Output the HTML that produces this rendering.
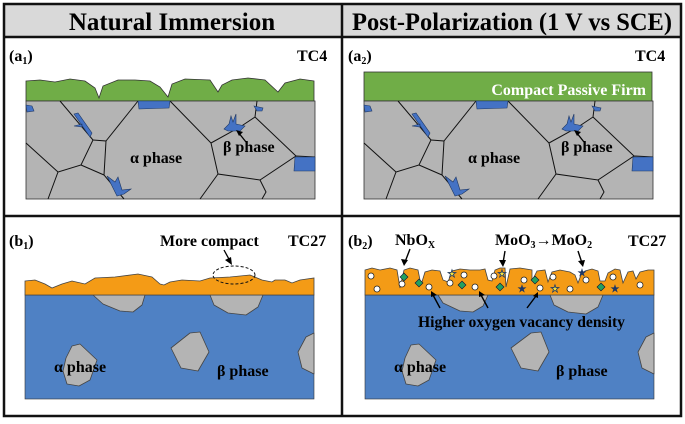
<!DOCTYPE html>
<html><head><meta charset="utf-8"><style>
body{margin:0;background:#fff;width:685px;height:419px;overflow:hidden}
svg text{font-family:"Liberation Serif",serif;font-weight:bold}
</style></head><body>
<svg width="685" height="419" viewBox="0 0 685 419" xmlns="http://www.w3.org/2000/svg">
<rect x="0" y="0" width="685" height="419" fill="#fff"/>
<rect x="4" y="4" width="677" height="33" fill="#d9d9d9"/>
<text x="172" y="30" font-size="25" text-anchor="middle">Natural Immersion</text>
<text x="512" y="30" font-size="25" text-anchor="middle" textLength="320" lengthAdjust="spacingAndGlyphs">Post-Polarization (1 V vs SCE)</text>
<g fill="none" stroke="#111" stroke-width="2.5">
<rect x="4" y="4" width="677" height="412"/>
<line x1="4" y1="37" x2="681" y2="37"/>
<line x1="342" y1="4" x2="342" y2="416"/>
<line x1="4" y1="216" x2="681" y2="216"/>
</g>
<g font-size="16">
<text x="9" y="61">(a<tspan font-size="10" dy="3">1</tspan><tspan dy="-3">)</tspan></text>
<text x="297" y="61">TC4</text>
<text x="348" y="61">(a<tspan font-size="10" dy="3">2</tspan><tspan dy="-3">)</tspan></text>
<text x="635" y="61">TC4</text>
<text x="9" y="246">(b<tspan font-size="10" dy="3">1</tspan><tspan dy="-3">)</tspan></text>
<text x="288" y="246">TC27</text>
<text x="348" y="246">(b<tspan font-size="10" dy="3">2</tspan><tspan dy="-3">)</tspan></text>
<text x="628" y="246">TC27</text>
</g>

<path d="M26,81 L40,80 L55,82 L70,79 L85,81 L95,88 L99,98 L103,86 L118,80 L135,80 L150,81 L160,87 L168,97 L172,84 L185,79 L210,80 L218,92 L222,85 L232,80 L248,78 L265,80 L278,92 L285,83 L300,79 L314,81 L314,101 L26,101 Z" fill="#70ad47" stroke="#333" stroke-width="0.8"/>
<g id="grain">
<rect x="26" y="101" width="289" height="98" fill="#b4b4b4" stroke="#333" stroke-width="0.8"/>
<g fill="none" stroke="#111" stroke-width="1">
<path d="M60,101 L93,140 L81,165 L58,172 L48,199"/>
<path d="M26,143 L58,172"/>
<path d="M93,140 L106,141 L104,175 L124,199"/>
<path d="M81,165 L104,175"/>
<path d="M138,101 L106,141"/>
<path d="M170,101 L211,143 L218,174 L260,180 L296,156 L315,157"/>
<path d="M211,143 L240,127 L255,117 L257,101"/>
<path d="M255,117 L296,156"/>
<path d="M218,174 L200,199"/>
<path d="M260,180 L266,192 L262,199"/>
</g>
<g fill="#4472c4" stroke="#1f3864" stroke-width="0.6">
<path d="M138,101 L170,101 L169,108 L139,109 Z"/>
<path d="M26,105 L32,106 L34,111 L27,112 Z"/>
<path d="M74,114 L78,113 L92,133 L90,137 Z M74,126 L82,124 L82,127 Z"/>
<path d="M107,176 L115,182 L118,177 L122,190 L131,189 L124,194 L117,196 Z"/>
<path d="M224,129 L229,124 L231,116 L233,122 L236,114 L236,124 L245,126 L240,131 L228,131 Z"/>
<path d="M254,106 L263,108 L262,111 L257,111 Z"/>
<path d="M295,157 L315,157 L315,171 L294,171 Z"/>
</g>
<text x="130" y="163" font-size="16">α phase</text>
<text x="223" y="152" font-size="16">β phase</text>
<path d="M246,142 L238,132" stroke="#000" stroke-width="1.3"/>
<path d="M236,130 L243,132 L239,136 Z" fill="#000"/>
</g>

<rect x="364" y="72" width="288" height="29" fill="#70ad47" stroke="#333" stroke-width="0.8"/>
<text x="646" y="95" font-size="16" fill="#fff" text-anchor="end">Compact Passive Firm</text>
<use href="#grain" transform="translate(338,0)"/>

<rect x="25" y="295" width="289" height="104" fill="#4f81c4" stroke="#333" stroke-width="0.6"/>
<g fill="#b4b4b4" stroke="#444" stroke-width="0.8" stroke-linejoin="round">
<path d="M93,295 L145,295 L142,305 L133,312 L120,311 L103,304 Z"/>
<path d="M210,295 L263,295 L258,307 L246,315 L228,313 L214,305 Z"/>
<path d="M72,346 L80,344 L97,360 L90,380 L79,386 L67,384 L63,371 L66,358 Z"/>
<path d="M190,333 L200,332 L209,352 L198,371 L181,368 L171,348 Z"/>
<path d="M314,333 L306,337 L298,352 L302,368 L314,374 Z"/>
</g>
<path d="M25,281 L35,280 L45,284 L52,288 L62,284 L72,281 L85,284 L95,278 L115,277 L138,274 L152,277 L160,284 L164,285 L170,282 L182,280 L200,281 L210,278 L230,277 L250,275 L262,280 L272,282 L275,280 L285,280 L292,283 L300,280 L314,278 L314,295 L25,295 Z" fill="#f49b16" stroke="#444" stroke-width="0.8"/>
<ellipse cx="234" cy="275" rx="21" ry="9" fill="none" stroke="#111" stroke-width="1" stroke-dasharray="3,2"/>
<text x="160" y="246" font-size="16">More compact</text>
<path d="M224,250 L230,261" stroke="#000" stroke-width="1.3"/>
<path d="M232,265 L225,260 L231,257 Z" fill="#000"/>
<text x="54" y="372" font-size="16">α phase</text>
<text x="217" y="376" font-size="16">β phase</text>

<rect x="365" y="295" width="289" height="104" fill="#4f81c4" stroke="#333" stroke-width="0.6"/>
<g fill="#b4b4b4" stroke="#444" stroke-width="0.8" stroke-linejoin="round">
<path d="M438,295 L488,295 L483,306 L473,312 L460,311 L443,303 Z"/>
<path d="M550,295 L603,295 L598,307 L586,314 L568,312 L554,305 Z"/>
<path d="M411,345 L419,344 L436,360 L429,380 L418,386 L406,384 L402,371 L405,358 Z"/>
<path d="M531,333 L541,332 L549,352 L538,371 L521,368 L511,348 Z"/>
<path d="M654,333 L646,337 L638,352 L642,368 L654,374 Z"/>
</g>
<path d="M365,270 L372,268 L380,270 L390,268 L397,270 L400,288 L404,270 L410,268 L418,270 L421,285 L425,272 L432,270 L440,271 L443,280 L448,282 L452,271 L460,269 L470,270 L480,270 L485,269 L488,280 L492,281 L495,270 L500,268 L505,268 L506,287 L510,269 L520,268 L532,270 L532,281 L537,271 L545,270 L548,282 L552,272 L560,270 L570,272 L575,275 L578,283 L581,275 L585,271 L592,269 L598,271 L600,281 L605,281 L608,273 L615,269 L620,270 L623,283 L628,272 L633,271 L636,279 L640,272 L648,270 L654,270 L654,295 L365,295 Z" fill="#f49b16" stroke="#444" stroke-width="0.8"/>
<g fill="#fff" stroke="#222" stroke-width="0.8">
<circle cx="371" cy="276" r="3"/><circle cx="377" cy="289" r="3"/><circle cx="402" cy="284" r="3"/><circle cx="429" cy="287" r="3"/><circle cx="450" cy="283" r="3"/><circle cx="464" cy="275" r="3"/><circle cx="475" cy="287" r="3"/><circle cx="494" cy="276" r="3"/><circle cx="524" cy="280" r="3"/><circle cx="540" cy="288" r="3"/><circle cx="553" cy="277" r="3"/><circle cx="570" cy="289" r="3"/><circle cx="586" cy="280" r="3"/><circle cx="613" cy="277" r="3"/><circle cx="640" cy="285" r="3"/>
</g>
<g fill="#22a060" stroke="#113" stroke-width="0.6">
<path d="M404,273 l4,4 l-4,4 l-4,-4 Z"/><path d="M419,279 l4,4 l-4,4 l-4,-4 Z"/><path d="M462,281 l4,4 l-4,4 l-4,-4 Z"/><path d="M500,283 l4,4 l-4,4 l-4,-4 Z"/><path d="M535,276 l4,4 l-4,4 l-4,-4 Z"/><path d="M601,283 l4,4 l-4,4 l-4,-4 Z"/>
</g>
<g font-size="10" font-family="DejaVu Sans" text-anchor="middle">
<text x="452" y="277" fill="#f0e040" stroke="#1f3864" stroke-width="0.4">★</text>
<text x="502" y="277" fill="#f0e040" stroke="#1f3864" stroke-width="0.4">★</text>
<text x="555" y="292" fill="#f0e040" stroke="#1f3864" stroke-width="0.4">★</text>
<text x="522" y="292" fill="#1f3864">★</text>
<text x="582" y="276" fill="#1f3864">★</text>
<text x="615" y="292" fill="#1f3864">★</text>
</g>
<text x="395" y="245" font-size="16">NbO<tspan font-size="10" dy="3">X</tspan></text>
<text x="495" y="245" font-size="16">MoO<tspan font-size="10" dy="3">3</tspan><tspan dy="-3">→MoO</tspan><tspan font-size="10" dy="3">2</tspan></text>
<g stroke="#000" stroke-width="1.4" fill="none">
<path d="M410,249 L405,262"/><path d="M505,251 L503,263"/><path d="M578,251 L582,263"/>
<path d="M440,308 L433,295"/><path d="M488,308 L481,295"/><path d="M527,308 L536,296"/>
</g>
<g fill="#000">
<path d="M404,266 L401,259 L408,260 Z"/><path d="M503,267 L499,260 L506,260 Z"/><path d="M583,267 L578,261 L585,260 Z"/>
<path d="M431,291 L437,295 L431,297 Z"/><path d="M479,291 L485,295 L479,297 Z"/><path d="M538,292 L538,298 L533,296 Z"/>
</g>
<text x="418" y="327" font-size="16" textLength="207" lengthAdjust="spacingAndGlyphs">Higher oxygen vacancy density</text>
<text x="394" y="372" font-size="16">α phase</text>
<text x="556" y="376" font-size="16">β phase</text>
</svg>
</body></html>
